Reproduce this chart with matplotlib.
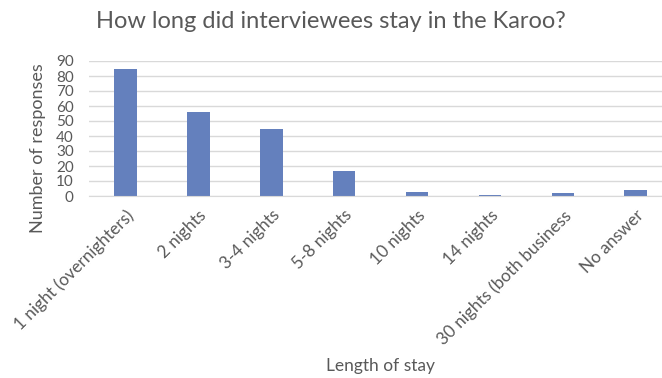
import matplotlib
matplotlib.use("Agg")
import matplotlib.pyplot as plt

categories = ["1 night (overnighters)", "2 nights", "3-4 nights", "5-8 nights",
              "10 nights", "14 nights", "30 nights (both business", "No answer"]
values = [85, 56, 45, 17, 3, 1, 2, 4]
yticks = [0, 10, 20, 30, 40, 50, 60, 70, 80, 90]

plt.rcParams['font.family'] = ['Lato', 'DejaVu Sans']
W, H = 662, 378
fig = plt.figure(figsize=(W/100, H/100), dpi=100)
ax = fig.add_axes([89/W, 1-196/H, (662-89)/W, (196-61)/H])

x = list(range(len(categories)))
ax.bar(x, values, width=0.31, color="#6480BD", zorder=3)
ax.set_xlim(-0.5, 7.36)
ax.set_ylim(0, 90)
ax.set_yticks(yticks)
ax.set_xticks(x)
ax.set_xticklabels(categories, rotation=45, ha="right", rotation_mode="anchor",
                   fontsize=12.3, color="#595959")
ax.tick_params(axis="y", labelsize=11, colors="#595959", length=0, pad=11)
ax.tick_params(axis="x", length=0, pad=8)
ax.yaxis.grid(True, color="#D9D9D9", linewidth=1, zorder=0)
for s in ["top", "right", "left"]:
    ax.spines[s].set_visible(False)
ax.spines["bottom"].set_color("#D9D9D9")
ax.spines["bottom"].set_zorder(4)

fig.text(331/W, 1-21/H, "How long did interviewees stay in the Karoo?", ha="center", va="center",
         fontsize=17, color="#595959")
fig.text(38/W, 1-148/H, "Number of responses", rotation=90, ha="center", va="center",
         fontsize=13, color="#595959")
fig.text(381/W, 1-366/H, "Length of stay", ha="center", va="center",
         fontsize=12.5, color="#595959")

fig.savefig("out.png", dpi=100)
